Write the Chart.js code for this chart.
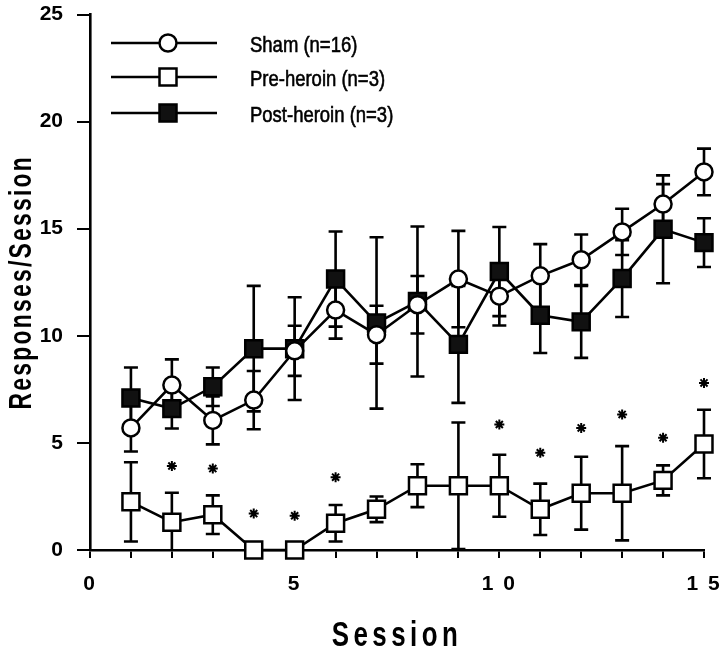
<!DOCTYPE html>
<html>
<head>
<meta charset="utf-8">
<script src="https://cdn.jsdelivr.net/npm/chart.js@4/dist/chart.umd.min.js"></script>
<style>
    html, body { margin: 0; padding: 0; background: #fff; }
    #wrap { width: 720px; height: 665px; }
</style>
</head>
<body>
<div id="wrap"><canvas id="chart" width="720" height="665"></canvas></div>
<script>
// ==================== DATA ====================

const sessions = [1, 2, 3, 4, 5, 6, 7, 8, 9, 10, 11, 12, 13, 14, 15];

const sham =    [5.7, 7.7, 6.05, 7.0, 9.3, 11.2, 10.05, 11.45, 12.65, 11.85, 12.8, 13.55, 14.85, 16.15, 17.65];
const shamErr = [1.1, 1.2, 1.12, 1.36, 1.17, 1.33, 1.35, 1.34, 2.25, 1.37, 1.48, 1.18, 1.08, 0.93, 1.09];

const preHeroin = [2.25, 1.3, 1.65, 0, 0, 1.25, 1.9, 3.0, 3.0, 3.0, 1.9, 2.65, 2.65, 3.25, 4.95];
const preErr =    [1.85, 1.37, 0.9, 0, 0, 0.85, 0.6, 1.0, 2.95, 1.45, 1.2, 1.7, 2.2, 0.7, 1.6];

const postHeroin = [7.1, 6.6, 7.62, 9.4, 9.4, 12.65, 10.6, 11.6, 9.6, 13.0, 10.96, 10.65, 12.67, 14.97, 14.35];
const postErr =    [1.42, 0.93, 0.9, 2.93, 2.4, 2.22, 4.0, 3.5, 2.73, 2.08, 1.76, 1.68, 1.79, 2.52, 1.14];

// significance stars
const starSessions = [2, 3, 4, 5, 6, 10, 11, 12, 13, 14, 15];
const starValues =   [3.92, 3.8, 1.7, 1.6, 3.4, 5.86, 4.54, 5.7, 6.33, 5.24, 7.8];

const legendLabels = ['Sham (n=16)', 'Pre-heroin (n=3)', 'Post-heroin (n=3)'];
const xTickLabels = ['0', '5', '1 0', '1 5'];
const yTicks = [0, 5, 10, 15, 20, 25];

// ==================== HELPERS ====================

const FONT = "'Liberation Sans', Arial, sans-serif";
const NARROW = 0.74; // horizontal squeeze, the original type is a condensed face

function toPoints(xs, ys) {
    return xs.map((x, i) => ({ x: x, y: ys[i] }));
}

// error bars drawn under the markers
const errorBars = {
    id: 'errorBars',
    beforeDatasetsDraw(chart) {
        const { ctx, chartArea, scales: { x, y } } = chart;
        const sets = [[sham, shamErr], [preHeroin, preErr], [postHeroin, postErr]];
        const cap = 7;
        ctx.save();
        ctx.strokeStyle = '#000';
        ctx.lineWidth = 2.6;
        sets.forEach(([vals, errs]) => {
            vals.forEach((v, i) => {
                if (!errs[i]) return;
                const px = x.getPixelForValue(sessions[i]);
                const top = y.getPixelForValue(v + errs[i]);
                const low = v - errs[i];
                const bot = low > 0 ? y.getPixelForValue(low) : chartArea.bottom;
                ctx.beginPath();
                ctx.moveTo(px, top);
                ctx.lineTo(px, bot);
                ctx.moveTo(px - cap, top);
                ctx.lineTo(px + cap, top);
                if (low > 0) {
                    ctx.moveTo(px - cap, bot);
                    ctx.lineTo(px + cap, bot);
                }
                ctx.stroke();
            });
        });
        ctx.restore();
    }
};

// legend: line - marker - line, then label
const lineLegend = {
    id: 'lineLegend',
    afterDraw(chart) {
        const ctx = chart.ctx;
        const rows = [43, 77, 113];
        const fills = ['#fff', '#fff', '#111'];
        ctx.save();
        ctx.strokeStyle = '#000';
        ctx.lineWidth = 2.5;
        rows.forEach((ry, i) => {
            ctx.beginPath();
            ctx.moveTo(111, ry);
            ctx.lineTo(217, ry);
            ctx.stroke();
            ctx.fillStyle = fills[i];
            ctx.beginPath();
            if (i === 0) {
                ctx.arc(168, ry, 8.5, 0, Math.PI * 2);
            } else {
                ctx.rect(168 - 8.5, ry - 8.5, 17, 17);
            }
            ctx.fill();
            ctx.stroke();

            ctx.save();
            ctx.translate(250, ry + 3);
            ctx.scale(0.84, 1);
            ctx.fillStyle = '#000';
            ctx.font = '500 22px ' + FONT;
            ctx.textBaseline = 'middle';
            ctx.textAlign = 'left';
            ctx.lineWidth = 0.6;
            ctx.fillText(legendLabels[i], 0, 0);
            ctx.strokeText(legendLabels[i], 0, 0);
            ctx.restore();
        });
        ctx.restore();
    }
};

// condensed, letter-spaced axis titles and tick labels
const condensedText = {
    id: 'condensedText',
    beforeDraw(chart) {
        Object.values(chart.scales).forEach(scale => {
            if (scale._condensed) return;
            const drawTitle = scale.drawTitle.bind(scale);
            const drawLabels = scale.drawLabels.bind(scale);
            const horizontal = scale.axis === 'x';
            scale.drawTitle = function () {
                const ctx = this.ctx;
                ctx.save();
                if (horizontal) {
                    const cx = (this.left + this.right) / 2;
                    ctx.translate(cx, 0);
                    ctx.scale(NARROW, 1);
                    ctx.translate(-cx, 0);
                    ctx.letterSpacing = '6px';
                } else {
                    const cy = (this.top + this.bottom) / 2;
                    ctx.translate(0, cy);
                    ctx.scale(1, NARROW);
                    ctx.translate(0, -cy);
                    ctx.letterSpacing = '3px';
                }
                drawTitle();
                ctx.restore();
            };
            if (horizontal) {
                scale.drawLabels = function (area) {
                    this.ctx.save();
                    this.ctx.letterSpacing = '2px';
                    drawLabels(area);
                    this.ctx.restore();
                };
            }
            scale._condensed = true;
        });
    }
};

// ==================== CHART ====================

const pointBase = {
    borderColor: '#000',
    borderWidth: 2.6,
    pointBorderWidth: 2.5,
    pointBorderColor: '#000',
    tension: 0,
    clip: false,
    showLine: true
};

new Chart(document.getElementById('chart'), {
    type: 'scatter',
    data: {
        datasets: [
            {
                ...pointBase,
                label: legendLabels[0],
                data: toPoints(sessions, sham),
                pointStyle: 'circle',
                pointRadius: 8.5,
                pointBackgroundColor: '#fff'
            },
            {
                ...pointBase,
                label: legendLabels[1],
                data: toPoints(sessions, preHeroin),
                pointStyle: 'rect',
                pointRadius: 12,
                pointBackgroundColor: '#fff'
            },
            {
                ...pointBase,
                label: legendLabels[2],
                data: toPoints(sessions, postHeroin),
                pointStyle: 'rect',
                pointRadius: 12,
                pointBackgroundColor: '#111'
            },
            {
                label: 'significance',
                data: toPoints(starSessions, starValues),
                showLine: false,
                pointStyle: 'star',
                pointRadius: 5,
                pointBorderWidth: 2,
                pointBorderColor: '#000',
                clip: false
            }
        ]
    },
    options: {
        responsive: false,
        animation: false,
        events: [],
        layout: { padding: { top: 14, right: 16, left: 0, bottom: 0 } },
        plugins: {
            legend: { display: false },
            tooltip: { enabled: false }
        },
        scales: {
            x: {
                type: 'linear',
                min: 0,
                max: 15,
                afterFit(scale) {
                    scale.height = 115;
                    scale.paddingLeft = 0;
                    scale.paddingRight = 0;
                },
                ticks: {
                    stepSize: 1,
                    autoSkip: false,
                    maxRotation: 0,
                    padding: 14,
                    color: '#000',
                    font: { family: FONT, size: 21, weight: 'bold' },
                    callback: v => (v % 5 === 0 ? xTickLabels[v / 5] : '')
                },
                grid: {
                    drawOnChartArea: false,
                    drawTicks: true,
                    tickLength: 8,
                    color: '#000',
                    lineWidth: 2
                },
                border: { display: true, color: '#000', width: 2.6 },
                title: {
                    display: true,
                    text: 'Session',
                    color: '#000',
                    padding: { top: 0, bottom: 8 },
                    font: { family: FONT, size: 35, weight: 'bold' }
                }
            },
            y: {
                min: 0,
                max: 25,
                afterFit(scale) {
                    scale.width = 90;
                    scale.paddingTop = 0;
                    scale.paddingBottom = 0;
                },
                afterBuildTicks(scale) {
                    scale.ticks = yTicks.map(v => ({ value: v }));
                },
                ticks: {
                    padding: 14,
                    color: '#000',
                    font: { family: FONT, size: 21, weight: 'bold' }
                },
                grid: {
                    drawOnChartArea: false,
                    drawTicks: true,
                    tickLength: 13,
                    color: '#000',
                    lineWidth: 2
                },
                border: { display: true, color: '#000', width: 2.6 },
                title: {
                    display: true,
                    text: 'Responses/Session',
                    color: '#000',
                    padding: { top: 4, bottom: 0 },
                    font: { family: FONT, size: 31, weight: 'bold' }
                }
            }
        }
    },
    plugins: [errorBars, lineLegend, condensedText]
});
</script>
</body>
</html>
